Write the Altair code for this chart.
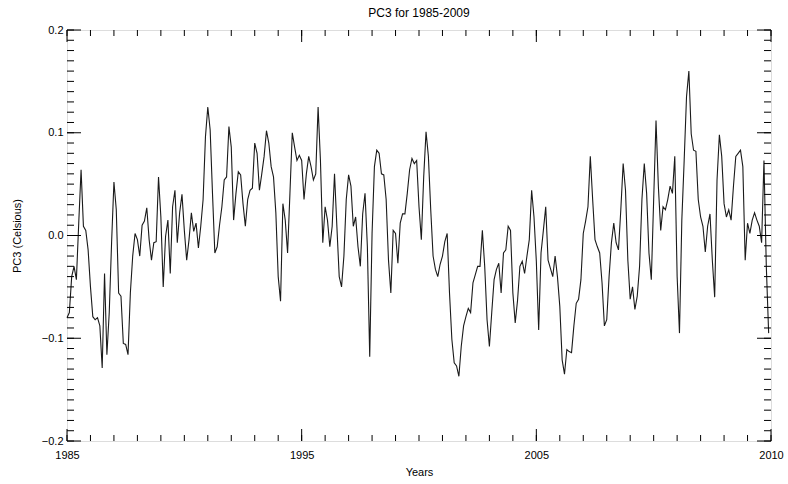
import altair as alt
import pandas as pd

start_year = 1985
end_year = 2010

# Monthly PC3 values (Celsius), Jan 1985 .. Dec 2009
pc3_1985_1989 = [
    -0.080, -0.075, -0.040, -0.030, -0.043, 0.012, 0.064, 0.009, 0.005, -0.014, -0.050, -0.079,
    -0.082, -0.080, -0.088, -0.129, -0.037, -0.116, -0.075, -0.007, 0.052, 0.025, -0.056, -0.059,
    -0.105, -0.106, -0.116, -0.056, -0.020, 0.002, -0.004, -0.020, 0.010, 0.014, 0.027, -0.004,
    -0.024, -0.007, -0.006, 0.057, 0.018, -0.050, -0.001, 0.015, -0.037, 0.028, 0.044, -0.007,
    0.022, 0.040, 0.005, -0.024, -0.004, 0.022, 0.004, 0.012, -0.012, 0.009, 0.035, 0.096,
]
pc3_1990_1994 = [
    0.125, 0.103, 0.041, -0.017, -0.011, 0.010, 0.028, 0.054, 0.057, 0.106, 0.086, 0.015,
    0.041, 0.062, 0.059, 0.031, 0.009, 0.035, 0.044, 0.046, 0.090, 0.080, 0.044, 0.060,
    0.077, 0.102, 0.090, 0.067, 0.057, 0.022, -0.040, -0.064, 0.031, 0.015, -0.017, 0.041,
    0.100, 0.086, 0.073, 0.078, 0.073, 0.035, 0.060, 0.077, 0.067, 0.054, 0.060, 0.125,
    0.073, -0.007, 0.028, 0.015, -0.011, 0.009, 0.060, 0.009, -0.040, -0.050, -0.020, 0.035,
]
pc3_1995_1999 = [
    0.059, 0.048, 0.009, 0.018, -0.011, -0.030, 0.021, 0.041, -0.011, -0.118, 0.002, 0.067,
    0.083, 0.080, 0.060, 0.059, 0.035, -0.024, -0.056, 0.005, 0.002, -0.027, 0.012, 0.021,
    0.021, 0.041, 0.064, 0.075, 0.070, 0.073, 0.028, -0.004, 0.057, 0.101, 0.077, 0.025,
    -0.020, -0.033, -0.040, -0.028, -0.020, -0.006, 0.002, -0.056, -0.101, -0.124, -0.127, -0.137,
    -0.108, -0.088, -0.079, -0.071, -0.075, -0.046, -0.038, -0.030, -0.030, 0.005, -0.030, -0.082,
]
pc3_2000_2004 = [
    -0.108, -0.075, -0.043, -0.033, -0.027, -0.056, -0.017, -0.014, 0.009, 0.005, -0.056, -0.085,
    -0.063, -0.030, -0.025, -0.037, -0.020, -0.004, 0.044, 0.018, -0.025, -0.092, -0.017, 0.005,
    0.028, -0.024, -0.032, -0.040, -0.020, -0.040, -0.069, -0.121, -0.135, -0.111, -0.113, -0.114,
    -0.088, -0.066, -0.062, -0.043, 0.002, 0.014, 0.028, 0.077, 0.035, -0.004, -0.011, -0.017,
    -0.046, -0.088, -0.082, -0.040, -0.007, 0.012, -0.007, -0.014, 0.025, 0.070, 0.044, -0.024,
]
pc3_2005_2009 = [
    -0.062, -0.050, -0.072, -0.059, -0.030, 0.035, 0.070, 0.041, -0.017, -0.043, 0.035, 0.112,
    0.048, 0.005, 0.028, 0.025, 0.035, 0.048, 0.041, 0.077, -0.040, -0.095, 0.015, 0.073,
    0.135, 0.160, 0.099, 0.083, 0.082, 0.035, 0.018, 0.009, -0.016, 0.009, 0.021, -0.024,
    -0.060, 0.054, 0.098, 0.077, 0.031, 0.018, 0.025, 0.015, 0.048, 0.077, 0.080, 0.083,
    0.067, -0.024, 0.012, 0.002, 0.015, 0.022, 0.015, 0.009, -0.007, 0.073, -0.030, -0.095,
]

# Axis tick positions / labels (IDL style: 3 equal major intervals)
x_major_ticks = [1985.0, 1985 + 25 / 3, 1985 + 50 / 3, 2010.0]
x_major_labels = ["1985", "1995", "2005", "2010"]
x_minor_ticks = [1985 + i * 25 / 30 for i in range(31)]
y_major_ticks = [-0.2, -0.1, 0.0, 0.1, 0.2]
y_minor_ticks = [round(-0.2 + i * 0.01, 2) for i in range(41)]

values = pc3_1985_1989 + pc3_1990_1994 + pc3_1995_1999 + pc3_2000_2004 + pc3_2005_2009
df = pd.DataFrame({"x": [start_year + i / 12 for i in range(len(values))], "y": values})

W, H = 704, 411
FONT = "Liberation Sans"

xscale = alt.Scale(domain=[start_year, end_year], nice=False, zero=False)
yscale = alt.Scale(domain=[-0.2, 0.2], nice=False, zero=False)

# label expression built from the tick lists
expr = "'" + x_major_labels[-1] + "'"
for pos, lab in reversed(list(zip(x_major_ticks[:-1], x_major_labels[:-1]))):
    expr = f"datum.value < {pos + 1:.4f} ? '{lab}' : " + expr

x_axis = alt.Axis(values=x_major_ticks, labelExpr=expr, tickSize=0, domain=False,
                  grid=False, title="Years", labelPadding=8, titlePadding=6,
                  labelFlush=False, labelFontSize=11, titleFontSize=11,
                  titleFontWeight="normal", labelFont=FONT, titleFont=FONT,
                  labelColor="black", titleColor="black")
y_axis = alt.Axis(values=y_major_ticks, format=".1f", tickSize=0, domain=False,
                  grid=False, title="PC3 (Celsious)", labelPadding=4,
                  titlePadding=19, labelFontSize=11, titleFontSize=11,
                  titleFontWeight="normal", labelFont=FONT, titleFont=FONT,
                  labelColor="black", titleColor="black")

enc_x = alt.X("x:Q", scale=xscale, axis=x_axis)
enc_y = alt.Y("y:Q", scale=yscale, axis=y_axis)

line = alt.Chart(df).mark_line(color="#1a1a1a", strokeWidth=1.1).encode(x=enc_x, y=enc_y)

xmaj = pd.DataFrame({"x": x_major_ticks})
xmin = pd.DataFrame({"x": x_minor_ticks})
ymaj = pd.DataFrame({"y": y_major_ticks})
ymin = pd.DataFrame({"y": y_minor_ticks})

def xticks(d, length):
    bottom = alt.Chart(d).mark_rule(color="black", strokeWidth=1).encode(
        x=enc_x, y=alt.value(H), y2=alt.value(H - length))
    top = alt.Chart(d).mark_rule(color="black", strokeWidth=1).encode(
        x=enc_x, y=alt.value(0), y2=alt.value(length))
    return [bottom, top]

def yticks(d, length):
    left = alt.Chart(d).mark_rule(color="black", strokeWidth=1).encode(
        y=enc_y, x=alt.value(0), x2=alt.value(length))
    right = alt.Chart(d).mark_rule(color="black", strokeWidth=1).encode(
        y=enc_y, x=alt.value(W), x2=alt.value(W - length))
    return [left, right]

layers = [line] + xticks(xmaj, 12) + xticks(xmin, 6) + yticks(ymaj, 14) + yticks(ymin, 7)

chart = alt.layer(*layers).properties(
    width=W, height=H,
    title=alt.TitleParams("PC3 for 1985-2009", fontSize=12, fontWeight="normal",
                          font=FONT, color="black", offset=4, anchor="middle"),
    autosize=alt.AutoSizeParams(type="none"),
    padding={"left": 67, "top": 30, "right": 17, "bottom": 43},
).configure_view(stroke="black", strokeWidth=1).configure(background="white")

chart.save("out.html", embed_options={"renderer": "svg", "actions": False})
